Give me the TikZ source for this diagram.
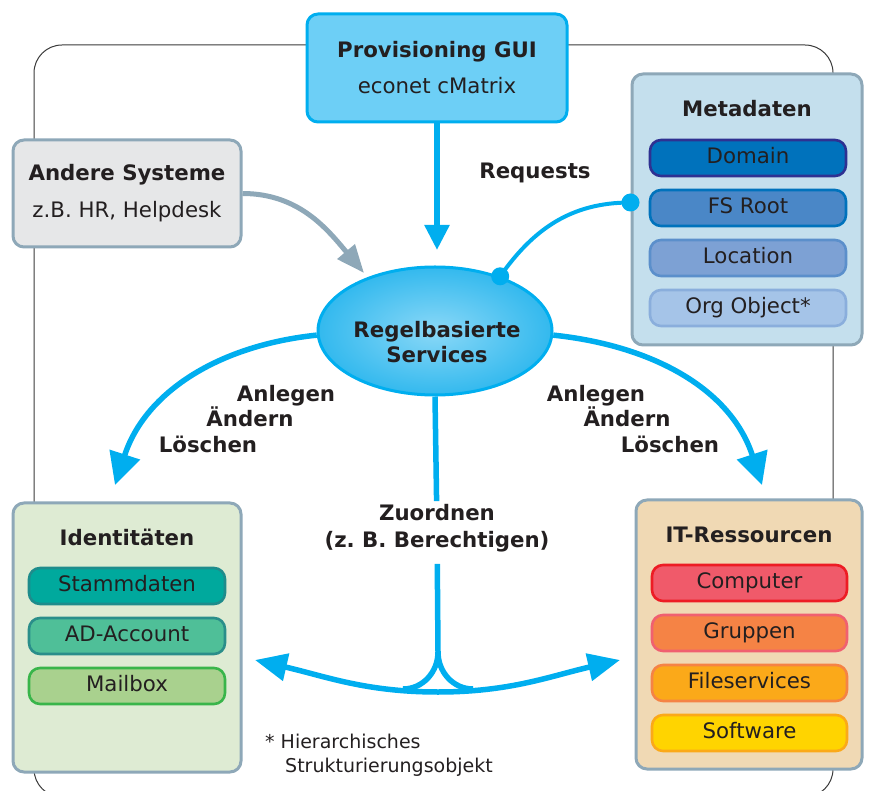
\documentclass[tikz,border=0pt]{standalone}
\usepackage{fontspec}
\setmainfont{DejaVu Sans}
\frenchspacing
\usetikzlibrary{shapes.geometric,arrows.meta}
\definecolor{flowblue}{HTML}{00AEEF}
\definecolor{guifill}{HTML}{6DCFF6}
\definecolor{panelline}{HTML}{8EA8B8}
\definecolor{grayfill}{HTML}{E6E7E8}
\definecolor{metafill}{HTML}{C4DFED}
\definecolor{identfill}{HTML}{DEEBD3}
\definecolor{resfill}{HTML}{F0D9B4}
\definecolor{ink}{HTML}{231F20}
\definecolor{frameline}{HTML}{3A3A3A}
% item colours
\definecolor{domfill}{HTML}{0072BC}\definecolor{domline}{HTML}{2E3192}
\definecolor{fsfill}{HTML}{4A87C7}\definecolor{fsline}{HTML}{0072BC}
\definecolor{locfill}{HTML}{7DA1D4}\definecolor{locline}{HTML}{5B8FCB}
\definecolor{orgfill}{HTML}{A5C4E8}\definecolor{orgline}{HTML}{8AAEDC}
\definecolor{stafill}{HTML}{00A99D}\definecolor{staline}{HTML}{1E8C8C}
\definecolor{adfill}{HTML}{4FBF98}\definecolor{adline}{HTML}{2A8E8A}
\definecolor{mailfill}{HTML}{A9D18E}\definecolor{mailline}{HTML}{39B54A}
\definecolor{compfill}{HTML}{F05A6A}\definecolor{compline}{HTML}{ED1C24}
\definecolor{grpfill}{HTML}{F58345}\definecolor{grpline}{HTML}{F06070}
\definecolor{filefill}{HTML}{FBA919}\definecolor{fileline}{HTML}{F58345}
\definecolor{softfill}{HTML}{FFD400}\definecolor{softline}{HTML}{FBA919}
\definecolor{svcinner}{HTML}{8AD8F7}\definecolor{svcouter}{HTML}{33B9EE}
\begin{document}
\begin{tikzpicture}[x=1pt,y=1pt,
  font=\fontsize{21.3}{25}\selectfont, text=ink,
  panel/.style={draw=panelline,line width=3pt,rounded corners=11pt,inner sep=0pt},
  item/.style={rounded corners=11pt,line width=2.6pt,minimum width=196pt,minimum height=36pt,
    inner sep=0pt,text height=15pt,text depth=4.5pt},
  head/.style={font=\fontsize{21.3}{25}\selectfont\bfseries},
  note/.style={font=\fontsize{19}{23}\selectfont,anchor=base west,inner sep=0pt},
  flow/.style={draw=flowblue,line width=5.5pt},
  graylink/.style={draw=panelline,line width=5pt}]
\useasboundingbox (0,0) rectangle (869,790);
\begin{scope}
\clip (0,0) rectangle (869,790);
\draw[frameline,line width=1pt,rounded corners=28pt] (34,-7) rectangle (833,745);
\end{scope}

% top: GUI and other systems
\node[panel,draw=flowblue,fill=guifill,minimum width=260pt,minimum height=108pt,align=center] (gui) at (437,722)
  {\textbf{Provisioning GUI}\\[11pt]econet cMatrix};
\node[panel,fill=grayfill,minimum width=228pt,minimum height=107pt,align=center] (andere) at (127,596.5)
  {\textbf{Andere Systeme}\\[12pt]z.B. HR, Helpdesk};

% metadata
\node[panel,fill=metafill,minimum width=230pt,minimum height=271pt] (meta) at (747,580.5) {};
\node[head,anchor=base] (metatitle) at (747,673) {Metadaten};
\node[item,fill=domfill,draw=domline] at (748,632) (domain) {Domain};
\node[item,fill=fsfill,draw=fsline] at (748,582) (fsroot) {FS Root};
\node[item,fill=locfill,draw=locline] at (748,532) (location) {Location};
\node[item,fill=orgfill,draw=orgline] at (748,482) (orgobj) {Org Object*};

% services
\node[ellipse,draw=flowblue,line width=3pt,minimum width=234pt,minimum height=128pt,
  shade,inner color=svcinner,outer color=svcouter] (svc) at (435,459) {};
\node[head,align=center] (svctext) at (437,448) {Regelbasierte\\Services};

\coordinate (guitip) at (437,540);
\draw[flow,-{Triangle[width=24pt,length=25pt]}] (gui) -- (guitip);
\node[head,anchor=base] (requests) at (535,611) {Requests};

\coordinate (andtip) at (364,517);
\draw[graylink,-{Triangle[width=22pt,length=28pt]}] (andere.east) to[out=0,in=130] (andtip);

\coordinate (metadot) at ([yshift=7pt]meta.west);
\draw[flow,line width=4pt] (svc.40) to[out=55,in=180] (metadot);
\fill[flowblue] (svc.40) circle (9pt) (metadot) circle (9pt);

% create / change / delete
\coordinate (lefttip) at (115,305);
\coordinate (righttip) at (762,305);
\draw[flow,-{Triangle[width=31pt,length=32pt]}] (svc.182) to[out=186,in=72] (lefttip);
\draw[flow,-{Triangle[width=31pt,length=32pt]}] (svc.-2) to[out=-6,in=108] (righttip);
\node[head,anchor=base] (lanl) at (286,388) {Anlegen};
\node[head,anchor=base] (land) at (250,363) {Ändern};
\node[head,anchor=base] (lloe) at (208,337) {Löschen};
\node[head,anchor=base] (ranl) at (596,388) {Anlegen};
\node[head,anchor=base] (rand) at (627,363) {Ändern};
\node[head,anchor=base] (rloe) at (670,337) {Löschen};

% assign
\node[head,align=center] (zuord) at (437,261.5) {Zuordnen\\[2pt](z. B. Berechtigen)};
\coordinate (fork) at (438,138);
\coordinate (ljoin) at (403,101);
\coordinate (rjoin) at (473,101);
\coordinate (botmid) at (438,98);
\coordinate (lbottip) at (255,130);
\coordinate (rbottip) at (620,130);
\draw[flow] (svc.south) -- (zuord);
\draw[flow,shorten <=8pt] (zuord) -- (fork);
\draw[flow] (fork) to[out=-90,in=0] (ljoin);
\draw[flow] (fork) to[out=-90,in=180] (rjoin);
\draw[flow,{Triangle[width=27pt,length=32pt]}-{Triangle[width=27pt,length=32pt]}]
  (lbottip) to[out=-13,in=180] (botmid) to[out=0,in=193] (rbottip);

% identities
\node[panel,fill=identfill,minimum width=228pt,minimum height=269pt] (ident) at (127,152.5) {};
\node[head,anchor=base] (identtitle) at (127,245) {Identitäten};
\node[item,fill=stafill,draw=staline] at (127,204) (stamm) {Stammdaten};
\node[item,fill=adfill,draw=adline] at (127,154) (adacc) {AD-Account};
\node[item,fill=mailfill,draw=mailline] at (127,104) (mailbox) {Mailbox};

% resources
\node[panel,fill=resfill,minimum width=226pt,minimum height=269pt] (res) at (749,155.5) {};
\node[head,anchor=base] (restitle) at (749,248) {IT-Ressourcen};
\node[item,fill=compfill,draw=compline,minimum width=195pt] at (749.5,207) (computer) {Computer};
\node[item,fill=grpfill,draw=grpline,minimum width=195pt] at (749.5,157) (gruppen) {Gruppen};
\node[item,fill=filefill,draw=fileline,minimum width=195pt] at (749.5,107) (files) {Fileservices};
\node[item,fill=softfill,draw=softline,minimum width=195pt] at (749.5,57) (software) {Software};

% footnote
\node[note] (fn1) at (265,42) {* Hierarchisches};
\node[note] (fn2) at (285,18) {Strukturierungsobjekt};
\end{tikzpicture}
\end{document}
